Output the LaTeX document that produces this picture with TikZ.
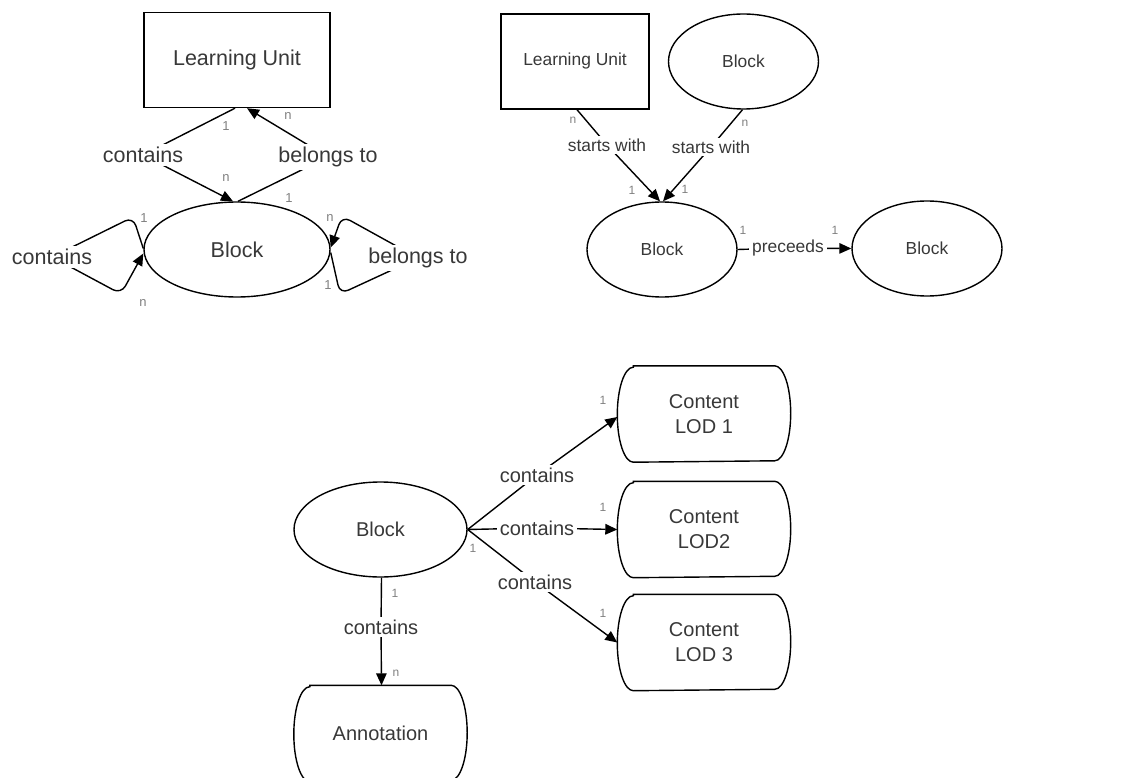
\documentclass[tikz,border=0pt]{standalone}
\usepackage{fontspec}
\setmainfont{Liberation Sans}
\usetikzlibrary{shapes.geometric,arrows.meta}
\definecolor{txt}{HTML}{383838}
\definecolor{mtxt}{HTML}{808080}
\begin{document}
\begin{tikzpicture}[x=1pt,y=-1pt,line width=1.4pt,
  arr/.style={-{Triangle[length=12pt,width=10.5pt]}},
  boxA/.style={draw,rectangle,minimum width=186pt,minimum height=95pt,inner sep=0pt,text=txt,font=\fontsize{21.5}{25}\selectfont},
  ellA/.style={draw,ellipse,minimum width=186pt,minimum height=95pt,inner sep=0pt,text=txt,font=\fontsize{21.5}{25}\selectfont},
  boxB/.style={draw,rectangle,minimum width=148pt,minimum height=95pt,inner sep=0pt,text=txt,font=\fontsize{17.4}{21}\selectfont},
  ellB/.style={draw,ellipse,minimum width=150pt,minimum height=95pt,inner sep=0pt,text=txt,font=\fontsize{17.4}{21}\selectfont},
  ellC/.style={draw,ellipse,minimum width=173pt,minimum height=95pt,inner sep=0pt,text=txt,font=\fontsize{20}{25}\selectfont},
  pill/.style={rectangle,minimum width=172pt,minimum height=95pt,inner sep=0pt,align=center,text=txt,font=\fontsize{20}{25}\selectfont},
  lblA/.style={fill=white,inner sep=3pt,text=txt,font=\fontsize{21.5}{25}\selectfont},
  lblB/.style={fill=white,inner sep=3pt,text=txt,font=\fontsize{17.4}{21}\selectfont},
  lblC/.style={fill=white,inner sep=3pt,text=txt,font=\fontsize{20}{25}\selectfont},
  mult/.style={inner sep=0pt,text=mtxt,font=\fontsize{13}{15}\selectfont},
  mults/.style={inner sep=0pt,text=mtxt,font=\fontsize{12}{14}\selectfont}]
\useasboundingbox (0,0) rectangle (1130,778);
\clip (0,0) rectangle (1130,778);

% ---------- top left ----------
\node[boxA] (lu1) at (237,60) {Learning Unit};
\node[ellA] (b1) at (237,249.5) {Block};
\draw[arr] ([xshift=-2pt]lu1.south) -- (143,155) node[lblA] (l1) {contains} -- ([xshift=-4pt]b1.north);
\draw[arr] ([xshift=1pt]b1.north) -- (328,157) node[lblA] (l2) {belongs to} -- ([xshift=10pt]lu1.south);
\draw[arr,rounded corners=9pt] ([yshift=1pt]b1.west) -- (133,217) -- (52,257) node[lblA,rounded corners=0pt] (l3) {contains} -- (121,294) -- ([yshift=-4pt]b1.west);
\draw[arr,rounded corners=9pt] ([yshift=-3pt]b1.east) -- (340,294) -- (418,258) node[lblA,rounded corners=0pt] (l4) {belongs to} -- (342,216) -- ([yshift=2pt]b1.east);
\node[mult] (m1) at (226,126) {1};
\node[mult] (m2) at (226,178) {n};
\node[mult] (m3) at (288,116) {n};
\node[mult] (m4) at (289,198) {1};
\node[mult] (m5) at (144,218) {1};
\node[mult] (m6) at (143,303) {n};
\node[mult] (m7) at (330,218) {n};
\node[mult] (m8) at (328,285) {1};

% ---------- top right ----------
\node[boxB] (lu2) at (575,61.5) {Learning Unit};
\node[ellB] (b2) at (743.5,61.5) {Block};
\node[ellB] (b3) at (662,249.5) {Block};
\node[ellB] (b4) at (927,248.5) {Block};
\draw[arr] ([xshift=2pt]lu2.south) -- (607,145) node[lblB] (l5) {starts with} -- ([xshift=-2pt]b3.north);
\draw[arr] ([xshift=-1pt]b2.south) -- (711,147) node[lblB] (l6) {starts with} -- ([xshift=1pt]b3.north);
\draw[arr] (b3.east) -- (788,248) node[lblB] (l7) {preceeds} -- (b4.west);
\node[mults] (m9) at (573,120) {n};
\node[mults] (m10) at (632,190) {1};
\node[mults] (m11) at (745,123) {n};
\node[mults] (m12) at (685,189) {1};
\node[mults] (m13) at (743,230) {1};
\node[mults] (m14) at (835,230) {1};

% ---------- bottom ----------
\node[ellC] (b5) at (380.5,529.5) {Block};
\node[pill] (c1) at (704,414) {Content\\LOD 1};
\node[pill] (c2) at (704,529.5) {Content\\LOD2};
\node[pill] (c3) at (704,642.5) {Content\\LOD 3};
\node[pill] (an) at (380.5,733.5) {Annotation};
\foreach \n in {c1,c2,c3,an}
  \draw ([xshift=16pt]\n.north west) -- ([xshift=-16pt]\n.north east)
    arc[start angle=90,end angle=-90,x radius=16pt,y radius=47.5pt]
    -- ([xshift=16pt]\n.south west)
    arc[start angle=270,end angle=90,x radius=16pt,y radius=47.5pt] -- cycle;
\draw[arr] (b5.east) -- (537,475) node[lblC] (l8) {contains} -- ([yshift=-3pt]c1.west);
\draw[arr] (b5.east) -- (537,528) node[lblC] (l9) {contains} -- (c2.west);
\draw[arr] (b5.east) -- (535,582) node[lblC] (l10) {contains} -- (c3.west);
\draw[arr] ([xshift=1pt]b5.south) -- (381,627) node[lblC] (l11) {contains} -- ([xshift=1pt]an.north);
\node[mults] (m15) at (603,400) {1};
\node[mults] (m16) at (603,507) {1};
\node[mults] (m17) at (603,613) {1};
\node[mults] (m18) at (473,548) {1};
\node[mults] (m19) at (395,593) {1};
\node[mults] (m20) at (396,673) {n};
\end{tikzpicture}
\end{document}
